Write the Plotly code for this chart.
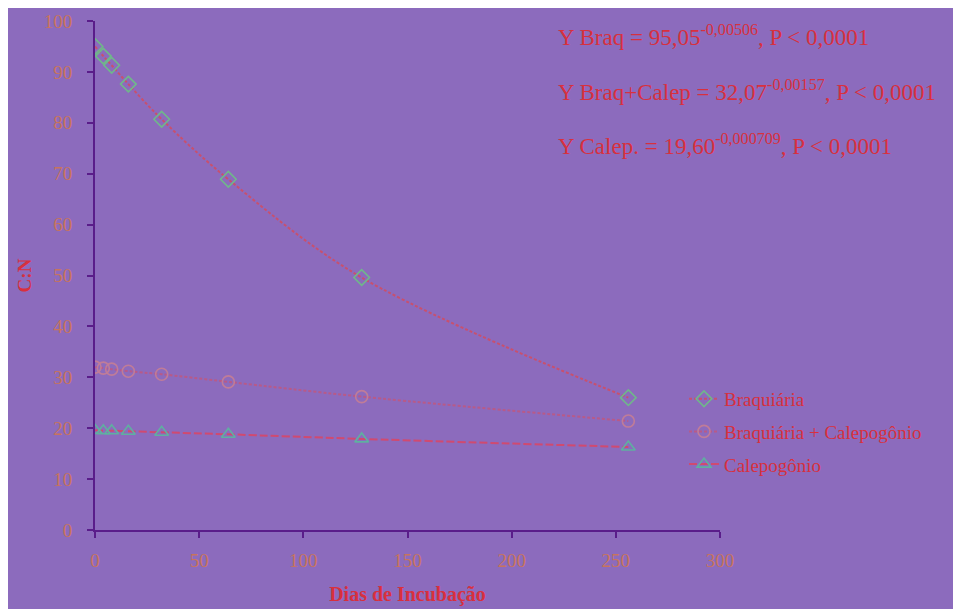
import plotly.graph_objects as go

days = [0, 4, 8, 16, 32, 64, 128, 256]
braq = [95.0, 93.1, 91.3, 87.6, 80.7, 68.9, 49.6, 26.0]
braq_calep = [32.0, 31.8, 31.6, 31.2, 30.6, 29.1, 26.2, 21.4]
calep = [19.6, 19.5, 19.5, 19.4, 19.2, 18.8, 17.9, 16.3]

series_names = ["Braquiária", "Braquiária + Calepogônio", "Calepogônio"]
equations = [
    "Y Braq = 95,05<sup>-0,00506</sup>, P < 0,0001",
    "Y Braq+Calep = 32,07<sup>-0,00157</sup>, P < 0,0001",
    "Y Calep. = 19,60<sup>-0,000709</sup>, P < 0,0001",
]
x_ticks = [0, 50, 100, 150, 200, 250, 300]
y_ticks = [0, 10, 20, 30, 40, 50, 60, 70, 80, 90, 100]

BG = "#8c6bbd"
TXT = "#d8303e"
TICKTXT = "#c8745c"
AX = "#5a1d8a"
SERIF = "Liberation Serif"

fig = go.Figure()
fig.add_trace(go.Scatter(
    x=days, y=braq, name=series_names[0], mode="lines+markers",
    line=dict(color="#c8506e", width=2, dash="3px,2px", shape="spline"),
    marker=dict(symbol="diamond-open", size=12, color="#6fb88a", line=dict(width=1.6)),
    legendgroup="a",
))
fig.add_trace(go.Scatter(
    x=days, y=braq_calep, name=series_names[1], mode="lines+markers",
    line=dict(color="#b85a88", width=2, dash="3px,2px", shape="spline"),
    marker=dict(symbol="circle-open", size=12, color="#c07c98", line=dict(width=1.6)),
    legendgroup="b",
))
fig.add_trace(go.Scatter(
    x=days, y=calep, name=series_names[2], mode="lines+markers",
    line=dict(color="#d04a70", width=2, dash="8px,3px", shape="spline"),
    marker=dict(symbol="triangle-up-open", size=12, color="#5fb0a0", line=dict(width=1.6)),
    legendgroup="c",
))

eq_y = [0.9706, 0.8625, 0.7564]
for txt, yy in zip(equations, eq_y):
    fig.add_annotation(
        text=txt, xref="paper", yref="paper", x=0.737, y=yy,
        xanchor="left", yanchor="middle", showarrow=False,
        font=dict(family=SERIF, size=23, color=TXT),
    )

fig.update_layout(
    width=961, height=609,
    paper_bgcolor=BG, plot_bgcolor=BG,
    margin=dict(l=87, r=249, t=13, b=87, autoexpand=False),
    font=dict(family=SERIF, color=TXT),
    showlegend=True,
    legend=dict(
        x=0.9424, y=0.295, xanchor="left", yanchor="top",
        bgcolor="rgba(0,0,0,0)", font=dict(family=SERIF, size=19, color=TXT),
        tracegroupgap=5,
    ),
    xaxis=dict(
        range=[0, 300], tickvals=x_ticks, showgrid=False, zeroline=False,
        showline=True, linecolor=AX, linewidth=2, automargin=False,
        ticks="outside", ticklen=6, tickcolor=AX, tickwidth=1.5,
        tickfont=dict(family=SERIF, size=19, color=TICKTXT),
        ticklabelstandoff=6,
        title=dict(text="<b>Dias de Incubação</b>", font=dict(family=SERIF, size=20, color=TXT), standoff=17),
    ),
    yaxis=dict(
        range=[0, 100], tickvals=y_ticks, showgrid=False, zeroline=False,
        showline=True, linecolor=AX, linewidth=2, automargin=False,
        ticks="outside", ticklen=6, tickcolor=AX, tickwidth=1.5,
        tickfont=dict(family=SERIF, size=19, color=TICKTXT),
        ticklabelstandoff=11,
        title=dict(text="<b>C:N</b>", font=dict(family=SERIF, size=19, color=TXT), standoff=7),
    ),
)

fig.write_html(
    "out.html",
    post_script="document.body.style.overflow='hidden';document.documentElement.style.overflow='hidden';",
)
